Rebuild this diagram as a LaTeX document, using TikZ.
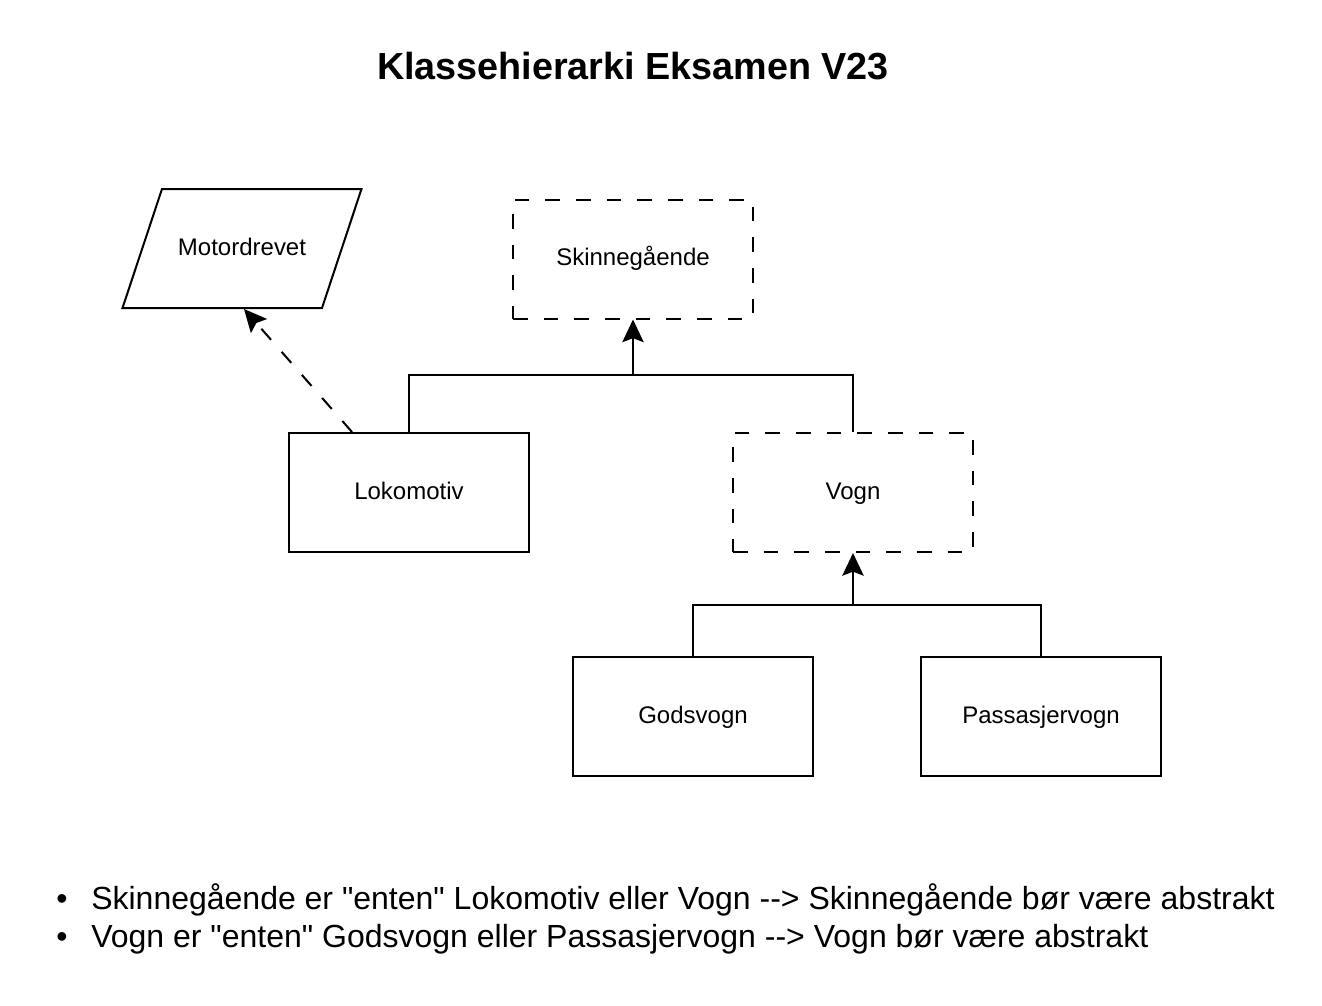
\documentclass[tikz,border=0pt]{standalone}
\usepackage{fontspec}
\setmainfont{Liberation Sans}[Ligatures=TeXOff]
\usetikzlibrary{calc,arrows.meta}

\tikzset{
  klasse/.style={draw, line width=1.5pt, minimum width=180pt, minimum height=89.25pt,
    text height=14pt, text depth=3.6pt,
    font=\fontsize{18pt}{21pt}\selectfont},
  abstrakt/.style={klasse, dash pattern=on 11pt off 12pt},
  grensesnitt/.style={klasse, draw=none},
  arv/.style={line width=1.5pt, -{Stealth[length=17pt,width=16pt,inset=3pt]}},
  linje/.style={line width=1.5pt},
  notat/.style={anchor=base west, inner sep=0pt, font=\fontsize{24pt}{28pt}\selectfont}
}

\begin{document}
\begin{tikzpicture}[x=0.75pt,y=-0.75pt]
  \fill[white] (0,0) rectangle (1322,1006);
  \useasboundingbox (0,0) rectangle (1322,1006);

  \node[font=\bfseries\fontsize{28.3pt}{34pt}\selectfont] (tittel) at (633,66) {Klassehierarki Eksamen V23};

  % klassene
  \node[grensesnitt] (motor) at (242,248.5) {Motordrevet};
  \draw[linje, line join=miter] ($(motor.center)+(-119.5,59.5)$) -- ($(motor.center)+(-80,-59.5)$)
    -- ($(motor.center)+(119.5,-59.5)$) -- ($(motor.center)+(80,59.5)$) -- cycle;
  \node[abstrakt] (skinne) at (633,259) {Skinnegående};
  \node[klasse] (loko) at (409,492.5) {Lokomotiv};
  \node[abstrakt] (vogn) at (853,492.5) {Vogn};
  \node[klasse] (gods) at (693,716.5) {Godsvogn};
  \node[klasse] (pass) at (1041,716.5) {Passasjervogn};

  % arv
  \coordinate (j1) at (633,375);
  \coordinate (j2) at (853,605);
  \draw[linje] (loko.north) |- (j1) -| (vogn.north);
  \draw[arv] (j1) -- (skinne.south);
  \draw[linje] (gods.north) |- (j2) -| (pass.north);
  \draw[arv] (j2) -- (vogn.south);

  % implementerer
  \draw[arv, dash pattern=on 11pt off 12pt] ($(loko.north west)+(64,0)$) -- ($(motor.south)+(2,0)$);

  % notater
  \node[notat] (b1) at (56,909) {•};
  \node[notat] (note1) at (91,909) {Skinnegående er "enten" Lokomotiv eller Vogn --> Skinnegående bør være abstrakt};
  \node[notat] (b2) at (56,947) {•};
  \node[notat] (note2) at (91,947) {Vogn er "enten" Godsvogn eller Passasjervogn --> Vogn bør være abstrakt};
\end{tikzpicture}
\end{document}
